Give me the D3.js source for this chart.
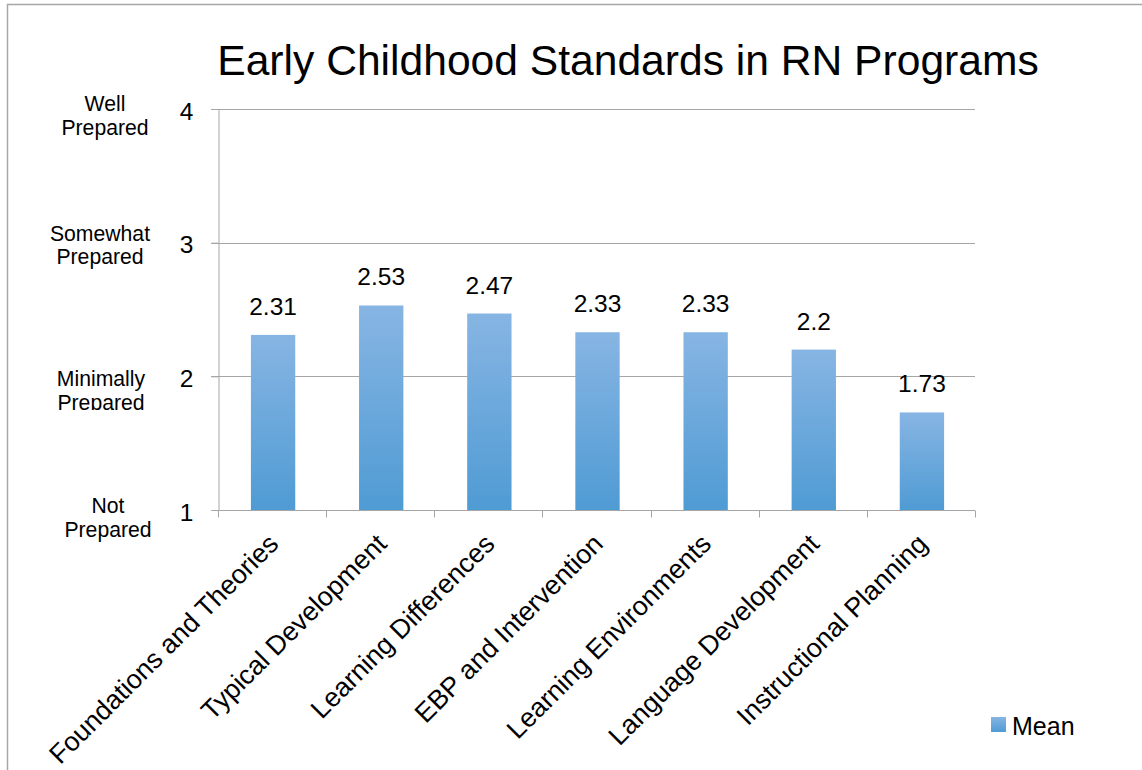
<!DOCTYPE html>
<html>
<head>
<meta charset="utf-8">
<script src="https://cdn.jsdelivr.net/npm/d3@7/dist/d3.min.js"></script>
<style>
  html, body { margin: 0; padding: 0; background: #fff; overflow: hidden; }
  text { font-family: "Liberation Sans", Arial, Helvetica, sans-serif; fill: #000; }
</style>
</head>
<body>
<div id="chart"></div>
<script>
const categories = [
    "Foundations and Theories",
    "Typical Development",
    "Learning Differences",
    "EBP and Intervention",
    "Learning Environments",
    "Language Development",
    "Instructional Planning"
];
const meanValues = [2.31, 2.53, 2.47, 2.33, 2.33, 2.2, 1.73];
const yTicks = [1, 2, 3, 4];
const yTickNames = [["Not", "Prepared"], ["Minimally", "Prepared"], ["Somewhat", "Prepared"], ["Well", "Prepared"]];
const seriesName = "Mean";
const chartTitle = "Early Childhood Standards in RN Programs";

function drawChart() {
    const width = 1142;
    const height = 770;
    const margin = {top: 109, right: 167, bottom: 260, left: 218};

    const svg = d3.select("#chart")
        .append("svg")
        .attr("width", width)
        .attr("height", height);

    const defs = svg.append("defs");
    const grad = defs.append("linearGradient")
        .attr("id", "barFill")
        .attr("x1", 0).attr("y1", 0)
        .attr("x2", 0).attr("y2", 1);
    grad.append("stop").attr("offset", "0%").attr("stop-color", "#87b5e3");
    grad.append("stop").attr("offset", "100%").attr("stop-color", "#4f9bd4");

    // clip for the left labels (the "Minimally Prepared" one is cut off in the source)
    defs.append("clipPath").attr("id", "minClip")
        .append("rect").attr("x", 0).attr("y", 0).attr("width", 210).attr("height", 410);

    // outer frame
    svg.append("path")
        .attr("d", `M7.5,${height} V4.5 H${width}`)
        .attr("fill", "none")
        .attr("stroke", "#a6a6a6")
        .attr("stroke-width", 1.5);

    const x = d3.scaleBand()
        .domain(categories)
        .range([margin.left, width - margin.right])
        .paddingInner(0.59)
        .paddingOuter(0.295);

    const y = d3.scaleLinear()
        .domain([1, 4])
        .range([height - margin.bottom, margin.top]);

    // gridlines
    svg.append("g")
        .selectAll("line")
        .data(yTicks.slice(1))
        .enter()
        .append("line")
        .attr("x1", margin.left - 7)
        .attr("x2", width - margin.right)
        .attr("y1", d => Math.round(y(d)) + 0.5)
        .attr("y2", d => Math.round(y(d)) + 0.5)
        .attr("stroke", "#a6a6a6")
        .attr("stroke-width", 1);

    // bars
    svg.append("g")
        .selectAll("rect")
        .data(meanValues)
        .enter()
        .append("rect")
        .attr("x", (d, i) => x(categories[i]) + 1)
        .attr("width", x.bandwidth())
        .attr("y", d => y(d))
        .attr("height", d => y(1) - y(d))
        .attr("fill", "url(#barFill)");

    // value labels
    svg.append("g")
        .selectAll("text")
        .data(meanValues)
        .enter()
        .append("text")
        .attr("x", (d, i) => x(categories[i]) + x.bandwidth() / 2 + 1)
        .attr("y", d => y(d) - 20)
        .attr("text-anchor", "middle")
        .attr("font-size", 24.5)
        .text(d => d);

    // y axis
    const yAxis = svg.append("g")
        .attr("transform", `translate(${margin.left + 0.5},0)`)
        .call(d3.axisLeft(y).tickValues(yTicks).tickSize(7).tickFormat(d3.format("d")));
    yAxis.select(".domain").attr("stroke", "#a6a6a6");
    yAxis.selectAll(".tick line").attr("stroke", "#a6a6a6");
    yAxis.selectAll(".tick text")
        .attr("x", -25)
        .attr("dy", 10)
        .attr("font-size", 24.5)
        .attr("font-family", null);

    // x axis
    const step = x.step();
    const xAxis = svg.append("g")
        .attr("transform", `translate(0,${y(1) + 0.5})`);
    xAxis.append("line")
        .attr("x1", margin.left).attr("x2", width - margin.right)
        .attr("stroke", "#a6a6a6");
    xAxis.selectAll(".sep")
        .data(d3.range(categories.length + 1))
        .enter()
        .append("line")
        .attr("class", "sep")
        .attr("x1", i => Math.round(margin.left + i * step) + 0.5)
        .attr("x2", i => Math.round(margin.left + i * step) + 0.5)
        .attr("y1", 0).attr("y2", 7)
        .attr("stroke", "#a6a6a6");
    xAxis.selectAll(".cat")
        .data(categories)
        .enter()
        .append("text")
        .attr("class", "cat")
        .attr("text-anchor", "end")
        .attr("font-size", 26.8)
        .attr("transform", d => `translate(${x(d) + x.bandwidth() / 2 + 8},35) rotate(-45)`)
        .text(d => d);

    // left descriptive labels
    const nameX = [108, 101, 100, 105];
    const nameOffsets = [3, 10, -2, 2];
    const names = svg.append("g");
    yTicks.forEach((t, i) => {
        const txt = names.append("text")
            .attr("y", y(t) + nameOffsets[i])
            .attr("text-anchor", "middle")
            .attr("font-size", 21.2);
        if (i === 1) txt.attr("clip-path", "url(#minClip)");
        yTickNames[i].forEach((line, j) => {
            txt.append("tspan")
                .attr("x", nameX[i])
                .attr("dy", j === 0 ? 0 : 23.5)
                .text(line);
        });
    });

    // title
    svg.append("text")
        .attr("x", 628)
        .attr("y", 75)
        .attr("text-anchor", "middle")
        .attr("font-size", 42.6)
        .text(chartTitle);

    // legend
    const legend = svg.append("g").attr("transform", "translate(991,717)");
    legend.append("rect")
        .attr("width", 15).attr("height", 15)
        .attr("fill", "url(#barFill)");
    legend.append("text")
        .attr("x", 21)
        .attr("y", 18)
        .attr("font-size", 25)
        .text(seriesName);
}

drawChart();
</script>
</body>
</html>
